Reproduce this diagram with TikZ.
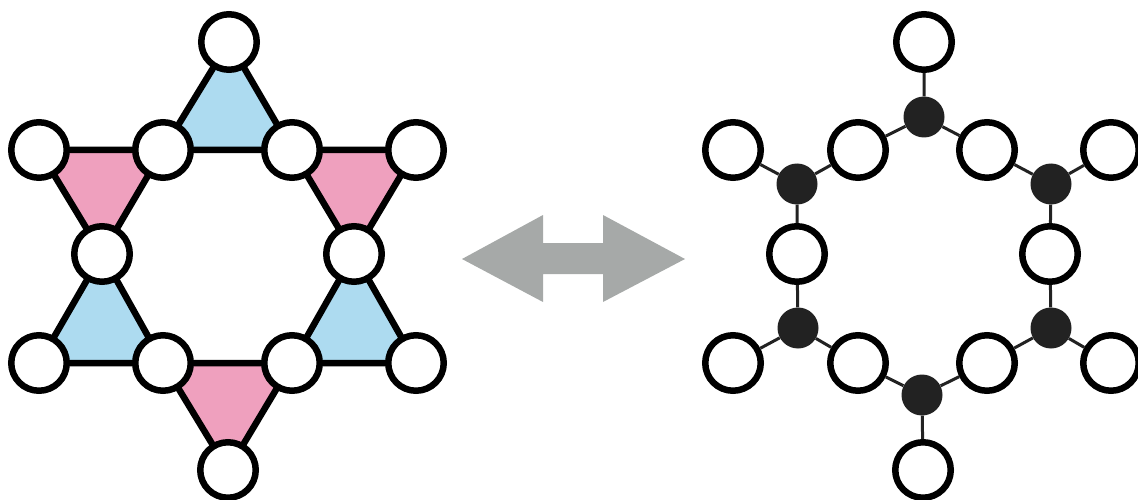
\documentclass[tikz,border=0pt]{standalone}
\usetikzlibrary{backgrounds}
\definecolor{triblue}{RGB}{173,219,240}
\definecolor{tripink}{RGB}{239,160,190}
\definecolor{arrowgray}{RGB}{166,169,168}
\definecolor{dotblack}{RGB}{34,34,34}
\tikzset{
  site/.style={circle, draw=black, fill=white, line width=6.5pt, minimum size=55.5pt, inner sep=0pt},
  hub/.style={circle, fill=dotblack, minimum size=41pt, inner sep=0pt},
  bond/.style={draw=dotblack, line width=3pt},
  tri/.style={draw=black, line width=6.5pt, line join=round},
}
\begin{document}
\begin{tikzpicture}[x=1pt,y=-1pt]
\useasboundingbox (0,0) rectangle (1138,500);
% ---------- left: star ----------
\node[site] (lt)  at (229,42) {};
\node[site] (l1)  at (39,150) {};
\node[site] (l2)  at (163,150) {};
\node[site] (l3)  at (292,150) {};
\node[site] (l4)  at (416,150) {};
\node[site] (l5)  at (102,254) {};
\node[site] (l6)  at (354,254) {};
\node[site] (l7)  at (39,363) {};
\node[site] (l8)  at (163,363) {};
\node[site] (l9)  at (292,363) {};
\node[site] (l10) at (416,363) {};
\node[site] (lb)  at (228,470) {};
\begin{scope}[on background layer]
\filldraw[tri, fill=triblue] (l2.center) -- (l3.center) -- (lt.center) -- cycle;
\filldraw[tri, fill=tripink] (l1.center) -- (l2.center) -- (l5.center) -- cycle;
\filldraw[tri, fill=tripink] (l3.center) -- (l4.center) -- (l6.center) -- cycle;
\filldraw[tri, fill=triblue] (l5.center) -- (l8.center) -- (l7.center) -- cycle;
\filldraw[tri, fill=triblue] (l6.center) -- (l10.center) -- (l9.center) -- cycle;
\filldraw[tri, fill=tripink] (l8.center) -- (l9.center) -- (lb.center) -- cycle;
\end{scope}
% ---------- arrow ----------
\fill[arrowgray] (462,259) -- (543,215) -- (543,243) -- (603,243) -- (603,215)
  -- (685,259) -- (603,302) -- (603,274) -- (543,274) -- (543,302) -- cycle;
% ---------- right: bipartite ----------
\node[site] (rt)  at (924,42) {};
\node[site] (r1)  at (733,150) {};
\node[site] (r2)  at (858,150) {};
\node[site] (r3)  at (987,150) {};
\node[site] (r4)  at (1111,150) {};
\node[site] (r5)  at (797,254) {};
\node[site] (r6)  at (1050,254) {};
\node[site] (r7)  at (733,363) {};
\node[site] (r8)  at (858,363) {};
\node[site] (r9)  at (987,363) {};
\node[site] (r10) at (1111,363) {};
\node[site] (rb)  at (923,470) {};
\node[hub] (h1) at (924,117) {};
\node[hub] (h2) at (797,184) {};
\node[hub] (h3) at (1051,184) {};
\node[hub] (h4) at (798,328) {};
\node[hub] (h5) at (1051,328) {};
\node[hub] (h6) at (922,395) {};
\draw[bond] (h1) -- (rt) (h1) -- (r2) (h1) -- (r3);
\draw[bond] (h2) -- (r1) (h2) -- (r2) (h2) -- (r5);
\draw[bond] (h3) -- (r3) (h3) -- (r4) (h3) -- (r6);
\draw[bond] (h4) -- (r5) (h4) -- (r7) (h4) -- (r8);
\draw[bond] (h5) -- (r6) (h5) -- (r9) (h5) -- (r10);
\draw[bond] (h6) -- (r8) (h6) -- (r9) (h6) -- (rb);
\end{tikzpicture}
\end{document}
